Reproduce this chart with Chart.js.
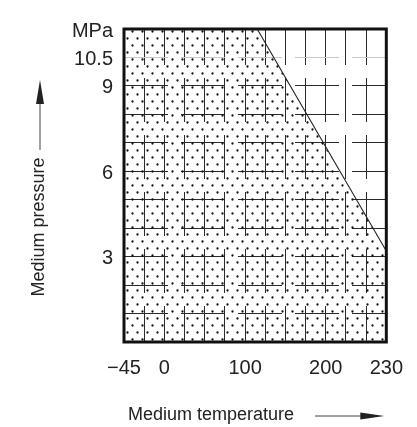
<!DOCTYPE html>
<html>
<head>
<meta charset="utf-8">
<title>Medium pressure / temperature range</title>
<script src="https://cdn.jsdelivr.net/npm/chart.js@4.4.1/dist/chart.umd.min.js"></script>
<style>
  html, body { margin: 0; padding: 0; background: #fff; }
  #wrap { position: relative; width: 417px; height: 427px; }
</style>
</head>
<body>
<div id="wrap"><canvas id="chart"></canvas></div>
<script>
// axis breakpoints: value -> grid cell (axes are not uniform)
const TEMP_KNOTS = [-45, 0, 200, 230];
const TEMP_CELLS = [0, 2, 10, 13];
const PRES_KNOTS = [0, 9, 10.5, 12];
const PRES_CELLS = [0, 9, 10, 11];

// one grid line per cell boundary
const TEMP_GRID = [-45, -22.5, 0, 25, 50, 75, 100, 125, 150, 175, 200, 210, 220, 230];
const PRES_GRID = [0, 1, 2, 3, 4, 5, 6, 7, 8, 9, 10.5, 12];

// labelled ticks
const TEMP_LABELS = [-45, 0, 100, 200, 230];
const PRES_LABELS = [3, 6, 9, 10.5];
const PRES_UNIT = 'MPa';

// upper limit of the permitted range (°C / MPa)
const limitTemp = [-45, 115, 230];
const limitPres = [12, 12, 3.2];

const X_TITLE = 'Medium temperature';
const Y_TITLE = 'Medium pressure';

const FONT = '"Liberation Sans", Arial, Helvetica, sans-serif';
const INK = '#222';

function interp(v, xs, ys) {
  let i = 1;
  while (i < xs.length - 1 && v > xs[i]) i++;
  const t = (v - xs[i - 1]) / (xs[i] - xs[i - 1]);
  return ys[i - 1] + t * (ys[i] - ys[i - 1]);
}

const BREAKS = {
  x: { knots: TEMP_KNOTS, cells: TEMP_CELLS },
  y: { knots: PRES_KNOTS, cells: PRES_CELLS }
};

// linear scale with piecewise spacing
class BrokenLinearScale extends Chart.LinearScale {
  getPixelForValue(value) {
    if (value === null || value === undefined) return NaN;
    const b = BREAKS[this.id];
    const c = interp(value, b.knots, b.cells);
    return this.getPixelForDecimal(c / b.cells[b.cells.length - 1]);
  }
  getValueForPixel(pixel) {
    const b = BREAKS[this.id];
    const c = this.getDecimalForPixel(pixel) * b.cells[b.cells.length - 1];
    return interp(c, b.cells, b.knots);
  }
}
BrokenLinearScale.id = 'brokenLinear';
BrokenLinearScale.defaults = Chart.LinearScale.defaults;
Chart.register(BrokenLinearScale);

// dotted screen for the permitted area
function dotPattern() {
  const c = document.createElement('canvas');
  c.width = 10; c.height = 14;
  const g = c.getContext('2d');
  g.fillStyle = '#111';
  for (const [px, py] of [[2.5, 3.5], [7.5, 10.5]]) {
    g.beginPath(); g.arc(px, py, 1.15, 0, Math.PI * 2); g.fill();
  }
  return g.createPattern(c, 'repeat');
}

// frame, axis titles and arrows
const framePlugin = {
  id: 'frame',
  afterDatasetsDraw(chart) {
    const { ctx, chartArea: a } = chart;
    ctx.save();
    ctx.lineWidth = 3;
    ctx.strokeStyle = '#111';
    ctx.strokeRect(a.left, a.top, a.right - a.left, a.bottom - a.top);

    ctx.fillStyle = INK;
    ctx.font = '18px ' + FONT;
    ctx.textBaseline = 'middle';

    // x title + arrow
    const xy = a.bottom + 73;
    ctx.textAlign = 'left';
    ctx.fillText(X_TITLE, a.left + 4, xy);
    ctx.strokeStyle = '#444';
    ctx.lineWidth = 1;
    ctx.beginPath(); ctx.moveTo(a.left + 191, xy + 1); ctx.lineTo(a.right - 20, xy + 1); ctx.stroke();
    ctx.beginPath();
    ctx.moveTo(a.right - 2, xy + 1);
    ctx.lineTo(a.right - 26, xy - 2.5);
    ctx.lineTo(a.right - 26, xy + 4.5);
    ctx.closePath(); ctx.fill();

    // y title + arrow
    const yx = a.left - 85;
    ctx.save();
    ctx.translate(yx, a.bottom - 115);
    ctx.rotate(-Math.PI / 2);
    ctx.textAlign = 'center';
    ctx.fillText(Y_TITLE, 0, 0);
    ctx.restore();
    ctx.beginPath(); ctx.moveTo(yx + 1, a.top + 121); ctx.lineTo(yx + 1, a.top + 70); ctx.stroke();
    ctx.beginPath();
    ctx.moveTo(yx + 1, a.top + 51);
    ctx.lineTo(yx - 3, a.top + 75);
    ctx.lineTo(yx + 5, a.top + 75);
    ctx.closePath(); ctx.fill();
    ctx.restore();
  }
};

const tickFont = { family: FONT, size: 20 };
const GRID_DASH = [44, 13];

new Chart(document.getElementById('chart'), {
  type: 'line',
  data: {
    datasets: [{
      data: limitTemp.map((t, i) => ({ x: t, y: limitPres[i] })),
      borderColor: INK,
      borderWidth: 1.1,
      pointRadius: 0,
      tension: 0,
      fill: 'origin',
      backgroundColor: dotPattern()
    }]
  },
  options: {
    animation: false,
    responsive: true,
    maintainAspectRatio: false,
    layout: { padding: { top: 29, right: 27, left: 0, bottom: 0 } },
    plugins: { legend: { display: false }, tooltip: { enabled: false } },
    scales: {
      x: {
        type: 'brokenLinear',
        min: TEMP_KNOTS[0], max: TEMP_KNOTS[TEMP_KNOTS.length - 1],
        afterBuildTicks: s => { s.ticks = TEMP_GRID.map(v => ({ value: v })); },
        afterFit: s => { s.height = 85; },
        grid: { color: '#2a2a2a', lineWidth: 1, drawTicks: false },
        border: { display: false, dash: GRID_DASH, dashOffset: 8 },
        ticks: {
          autoSkip: false, maxRotation: 0, padding: 14,
          color: INK, font: tickFont,
          callback: v => TEMP_LABELS.includes(v) ? String(v).replace('-', '\u2212') : ''
        }
      },
      y: {
        type: 'brokenLinear',
        min: PRES_KNOTS[0], max: PRES_KNOTS[PRES_KNOTS.length - 1],
        afterBuildTicks: s => { s.ticks = PRES_GRID.map(v => ({ value: v })); },
        afterFit: s => { s.width = 124; },
        grid: {
          color: c => (c.tick && c.tick.value === 10.5) ? '#c8c8c8' : '#2a2a2a',
          lineWidth: 1, drawTicks: false
        },
        border: { display: false, dash: GRID_DASH },
        ticks: {
          autoSkip: false, padding: 11, labelOffset: 2,
          color: INK, font: tickFont,
          callback: v => v === PRES_KNOTS[PRES_KNOTS.length - 1] ? PRES_UNIT
            : (PRES_LABELS.includes(v) ? String(v) : '')
        }
      }
    }
  },
  plugins: [framePlugin]
});
</script>
</body>
</html>
